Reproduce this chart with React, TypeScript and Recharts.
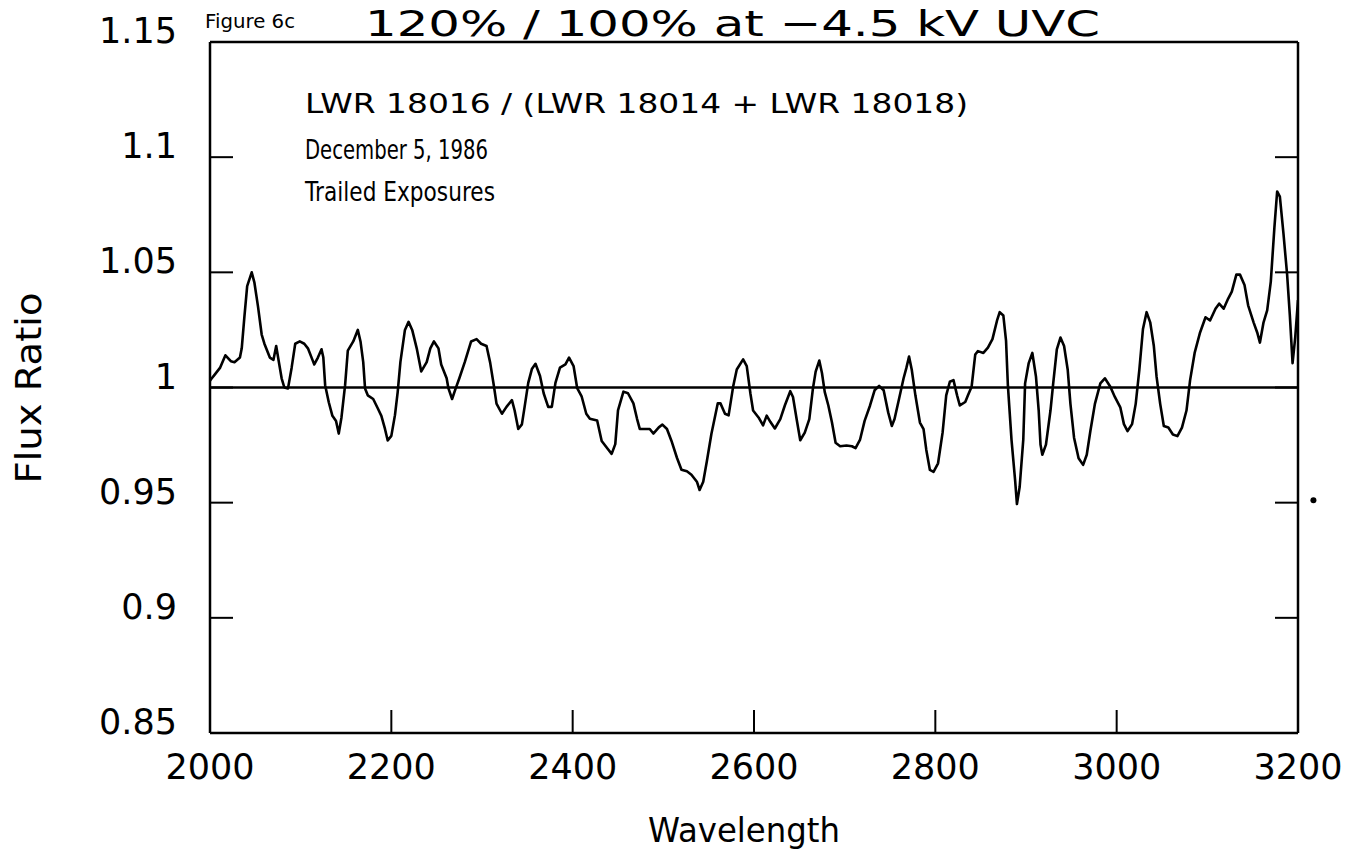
import { LineChart, Line, XAxis, YAxis, ReferenceLine, ReferenceDot } from "recharts";

// flux ratio, one value per wavelength (Å)
const wavelength = [
  2000, 2002, 2005, 2011, 2017, 2023, 2027, 2033, 2035, 2038,
  2041, 2046, 2049, 2053, 2057, 2060, 2066, 2070, 2073, 2076,
  2079, 2082, 2086, 2090, 2094, 2099, 2104, 2108, 2113, 2115,
  2119, 2123, 2125, 2127, 2131, 2135, 2139, 2142, 2145, 2149,
  2152, 2158, 2163, 2166, 2169, 2171, 2174, 2180, 2185, 2189,
  2193, 2196, 2200, 2204, 2207, 2210, 2215, 2219, 2223, 2228,
  2233, 2239, 2243, 2247, 2252, 2255, 2261, 2263, 2267, 2271,
  2275, 2281, 2288, 2294, 2299, 2305, 2309, 2313, 2316, 2322,
  2327, 2333, 2336, 2340, 2344, 2347, 2351, 2355, 2359, 2364,
  2368, 2373, 2377, 2381, 2386, 2392, 2396, 2401, 2405, 2410,
  2415, 2419, 2427, 2432, 2439, 2443, 2447, 2450, 2456, 2461,
  2467, 2471, 2474, 2480, 2485, 2489, 2495, 2499, 2504, 2509,
  2515, 2520, 2526, 2531, 2537, 2540, 2544, 2548, 2553, 2560,
  2563, 2568, 2572, 2577, 2581, 2588, 2592, 2596, 2599, 2605,
  2610, 2614, 2618, 2623, 2629, 2634, 2640, 2643, 2647, 2651,
  2656, 2661, 2665, 2668, 2672, 2675, 2678, 2682, 2686, 2690,
  2695, 2702, 2708, 2712, 2717, 2722, 2728, 2733, 2738, 2743,
  2748, 2752, 2755, 2760, 2765, 2768, 2771, 2774, 2778, 2783,
  2787, 2790, 2794, 2798, 2803, 2808, 2812, 2816, 2820, 2824,
  2827, 2833, 2836, 2840, 2844, 2847, 2853, 2858, 2863, 2868,
  2871, 2875, 2878, 2880, 2884, 2888, 2890, 2893, 2897, 2899,
  2903, 2907, 2911, 2914, 2916, 2918, 2922, 2927, 2930, 2934,
  2938, 2942, 2946, 2949, 2953, 2958, 2963, 2967, 2971, 2976,
  2982, 2987, 2993, 2998, 3004, 3008, 3012, 3017, 3021, 3025,
  3029, 3033, 3037, 3041, 3044, 3048, 3052, 3057, 3062, 3067,
  3072, 3077, 3081, 3086, 3092, 3098, 3103, 3109, 3113, 3118,
  3123, 3127, 3132, 3136, 3141, 3145, 3151, 3155, 3158, 3162,
  3166, 3170, 3174, 3177, 3180, 3184, 3188, 3191, 3194, 3197,
  3200,
];

const fluxRatio = [
  1.003, 1.004, 1.0055, 1.0085, 1.014, 1.0114, 1.011, 1.013, 1.017, 1.031,
  1.044, 1.05, 1.0455, 1.035, 1.023, 1.019, 1.013, 1.012, 1.018, 1.011,
  1.004, 1.0, 0.9996, 1.0085, 1.019, 1.02, 1.019, 1.017, 1.012, 1.01,
  1.013, 1.0166, 1.013, 1.001, 0.9936, 0.9877, 0.9855, 0.98, 0.987, 1.001,
  1.016, 1.02, 1.025, 1.02, 1.011, 0.9996, 0.9966, 0.995, 0.991, 0.9877,
  0.982, 0.977, 0.979, 0.988, 0.998, 1.011, 1.025, 1.0285, 1.025, 1.017,
  1.007, 1.011, 1.017, 1.02, 1.017, 1.01, 1.004, 0.9996, 0.995, 0.9996,
  1.004, 1.011, 1.02, 1.021, 1.019, 1.018, 1.0108, 1.001, 0.993, 0.9886,
  0.9916, 0.9945, 0.99, 0.982, 0.984, 0.9916, 1.002, 1.008, 1.0103, 1.005,
  0.9975, 0.9916, 0.9916, 1.002, 1.0086, 1.01, 1.013, 1.0093, 0.9997, 0.996,
  0.9886, 0.9864, 0.9857, 0.9768, 0.9732, 0.9712, 0.9754, 0.9901, 0.9982, 0.9975,
  0.9931, 0.9864, 0.982, 0.982, 0.982, 0.98, 0.9827, 0.9839, 0.982, 0.9768,
  0.9695, 0.9643, 0.9636, 0.9621, 0.9591, 0.9555, 0.9591, 0.968, 0.9798, 0.9931,
  0.9931, 0.9886, 0.9879, 1.0004, 1.0078, 1.0122, 1.0093, 0.9975, 0.99, 0.987,
  0.9836, 0.9878, 0.9851, 0.9822, 0.9863, 0.9922, 0.9984, 0.9959, 0.9863, 0.9771,
  0.9804, 0.9863, 0.9996, 1.0069, 1.0117, 1.0062, 0.9981, 0.9922, 0.9848, 0.976,
  0.9745, 0.9748, 0.9745, 0.9737, 0.9774, 0.9855, 0.9922, 0.9988, 1.0007, 0.9988,
  0.9892, 0.9833, 0.9863, 0.9951, 1.004, 1.0084, 1.0134, 1.0077, 0.9966, 0.9848,
  0.9819, 0.973, 0.9642, 0.9634, 0.9671, 0.9804, 0.9966, 1.0025, 1.0032, 0.9966,
  0.9922, 0.9937, 0.9966, 1.0003, 1.0143, 1.0158, 1.015, 1.0173, 1.021, 1.029,
  1.0327, 1.0313, 1.0202, 1.001, 0.9774, 0.9597, 0.9494, 0.9568, 0.9774, 1.0018,
  1.0106, 1.015, 1.0047, 0.99, 0.9752, 0.9708, 0.9752, 0.99, 1.0018, 1.0165,
  1.0217, 1.018, 1.0077, 0.9929, 0.9782, 0.9693, 0.9664, 0.9708, 0.9811, 0.9929,
  1.0018, 1.004, 1.0003, 0.9959, 0.9914, 0.9841, 0.9811, 0.9841, 0.9929, 1.0077,
  1.0254, 1.0327, 1.0283, 1.018, 1.0047, 0.9929, 0.9833, 0.9826, 0.9796, 0.9789,
  0.9826, 0.99, 1.0032, 1.015, 1.0239, 1.0305, 1.0291, 1.0342, 1.0364, 1.0342,
  1.0386, 1.0416, 1.049, 1.049, 1.0445, 1.0357, 1.0283, 1.0239, 1.0195, 1.0283,
  1.0335, 1.046, 1.0696, 1.0851, 1.0829, 1.0667, 1.049, 1.0313, 1.0106, 1.022,
  1.038,
];

const xTicks = [2000, 2200, 2400, 2600, 2800, 3000, 3200];
const yTicks = [0.85, 0.9, 0.95, 1, 1.05, 1.1, 1.15];

const data = wavelength.map((w, i) => ({ w, ratio: fluxRatio[i] }));

const FONT = "'DejaVu Sans', sans-serif";
const INK = "#000";
const TICK_LEN = 23;

function LeftTick(props: any) {
  const { x, y, payload } = props;
  return (
    <g>
      <line x1={x} y1={y} x2={x + TICK_LEN} y2={y} stroke={INK} strokeWidth={2} />
      <text x={x - 33} y={y - 11} textAnchor="end" dominantBaseline="central" fontSize={35} fontFamily={FONT} fill={INK}>
        {String(payload.value)}
      </text>
    </g>
  );
}

function RightTick(props: any) {
  const { x, y } = props;
  return <line x1={x} y1={y} x2={x - TICK_LEN} y2={y} stroke={INK} strokeWidth={2} />;
}

function BottomTick(props: any) {
  const { x, y, payload } = props;
  return (
    <g>
      <line x1={x} y1={y} x2={x} y2={y - TICK_LEN} stroke={INK} strokeWidth={2} />
      <text x={x} y={y + 34} textAnchor="middle" dominantBaseline="central" fontSize={35} fontFamily={FONT} fill={INK}>
        {String(payload.value)}
      </text>
    </g>
  );
}

function TopTick(props: any) {
  const { x, y } = props;
  return <line x1={x} y1={y} x2={x} y2={y + TICK_LEN} stroke={INK} strokeWidth={2} />;
}

const frame = { stroke: INK, strokeWidth: 2.5 };

export default function App() {
  return (
    <div style={{ position: "relative", width: 1364, height: 859, margin: "-8px 0 0 -8px", background: "#fff" }}>
      <LineChart width={1364} height={859} data={data} margin={{ top: 32, right: 56, bottom: 116, left: 200 }}>
        <XAxis dataKey="w" type="number" domain={[2000, 3200]} ticks={xTicks} interval={0} allowDataOverflow
          height={10} axisLine={frame} tickLine={false} tickSize={0} tickMargin={0} tick={BottomTick} />
        <XAxis xAxisId="top" orientation="top" type="number" domain={[2000, 3200]} ticks={xTicks} interval={0} allowDataOverflow
          height={10} axisLine={frame} tickLine={false} tickSize={0} tickMargin={0} tick={TopTick} />
        <YAxis type="number" domain={[0.85, 1.15]} ticks={yTicks} interval={0} allowDataOverflow
          width={10} axisLine={frame} tickLine={false} tickSize={0} tickMargin={0} tick={LeftTick} />
        <YAxis yAxisId="right" orientation="right" type="number" domain={[0.85, 1.15]} ticks={yTicks} interval={0} allowDataOverflow
          width={10} axisLine={frame} tickLine={false} tickSize={0} tickMargin={0} tick={RightTick} />
        <ReferenceLine y={1} stroke={INK} strokeWidth={2.5} />
        <Line type="linear" dataKey="ratio" stroke={INK} strokeWidth={2.6} strokeLinejoin="round" dot={false} isAnimationActive={false} />
        <ReferenceDot x={3217} y={0.951} r={3} fill={INK} stroke="none" ifOverflow="visible" />
      </LineChart>
      <svg width={1364} height={859} style={{ position: "absolute", left: 0, top: 0, pointerEvents: "none" }}>
        <g fontFamily={FONT} fill={INK}>
          <text x={205} y={28} fontSize={20} textLength={90} lengthAdjust="spacingAndGlyphs">Figure 6c</text>
          <text x={365} y={36} fontSize={36} textLength={735} lengthAdjust="spacingAndGlyphs">120% / 100% at −4.5 kV UVC</text>
          <text x={305} y={113} fontSize={27} textLength={663} lengthAdjust="spacingAndGlyphs">LWR 18016 / (LWR 18014 + LWR 18018)</text>
          <text x={305} y={159} fontSize={27} textLength={183} lengthAdjust="spacingAndGlyphs">December 5, 1986</text>
          <text x={305} y={201} fontSize={27} textLength={190} lengthAdjust="spacingAndGlyphs">Trailed Exposures</text>
          <text x={744} y={830} fontSize={34} textAnchor="middle" dominantBaseline="central" textLength={192} lengthAdjust="spacingAndGlyphs">Wavelength</text>
          <text transform="translate(28 388) rotate(-90)" fontSize={36} textAnchor="middle" dominantBaseline="central" textLength={191} lengthAdjust="spacingAndGlyphs">Flux Ratio</text>
        </g>
      </svg>
    </div>
  );
}
